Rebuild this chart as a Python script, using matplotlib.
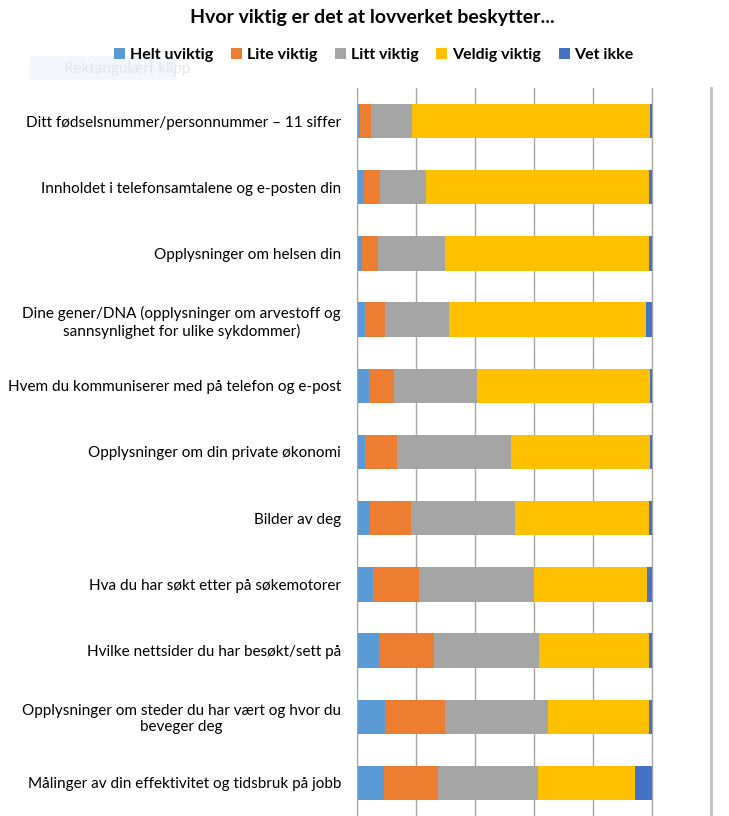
import numpy as np
import matplotlib.pyplot as plt
from matplotlib.patches import Rectangle

# Categories (top to bottom) and shares in percent
categories = [
    'Ditt fødselsnummer/personnummer – 11 siffer',
    'Innholdet i telefonsamtalene og e-posten din',
    'Opplysninger om helsen din',
    'Dine gener/DNA (opplysninger om arvestoff og\nsannsynlighet for ulike sykdommer)',
    'Hvem du kommuniserer med på telefon og e-post',
    'Opplysninger om din private økonomi',
    'Bilder av deg',
    'Hva du har søkt etter på søkemotorer',
    'Hvilke nettsider du har besøkt/sett på',
    'Opplysninger om steder du har vært og hvor du\nbeveger deg',
    'Målinger av din effektivitet og tidsbruk på jobb',
]
series_names = ['Helt uviktig', 'Lite viktig', 'Litt viktig', 'Veldig viktig', 'Vet ikke']
helt_uviktig = [1.0, 2.5, 1.8, 2.8, 4.1, 2.7, 4.4, 5.5, 7.4, 9.5, 9.1]
lite_viktig = [3.8, 5.2, 5.4, 6.7, 8.4, 10.9, 13.9, 15.6, 18.7, 20.4, 18.5]
litt_viktig = [13.8, 15.7, 22.6, 21.6, 28.3, 38.5, 35.1, 38.8, 35.5, 34.8, 33.7]
veldig_viktig = [80.6, 75.5, 69.1, 66.9, 58.4, 47.1, 45.5, 38.5, 37.4, 34.2, 33.1]
vet_ikke = [0.8, 1.1, 1.1, 2.0, 0.8, 0.8, 1.1, 1.6, 1.0, 1.1, 5.6]
colors = ['#5B9BD5', '#ED7D31', '#A5A5A5', '#FFC000', '#4472C4']

plt.rcParams['font.family'] = ['Lato', 'DejaVu Sans']

fig = plt.figure(figsize=(7.29, 8.16), dpi=100)
ax = fig.add_axes([357 / 729, 0.0, 354 / 729, 1 - 88 / 816])

y = np.arange(len(categories))
left = np.zeros(len(categories))
for name, vals, col in zip(series_names,
                           [helt_uviktig, lite_viktig, litt_viktig, veldig_viktig, vet_ikke],
                           colors):
    v = np.array(vals) / 100.0
    ax.barh(y, v, left=left, height=0.52, color=col, label=name, zorder=3)
    left += v

ax.set_xlim(0, 1.2)
ax.set_ylim(len(categories) - 0.5, -0.5)
ax.set_xticks(np.arange(0, 1.01, 0.2))
ax.set_xticklabels([])
ax.tick_params(axis='x', length=0)
ax.tick_params(axis='y', length=0, pad=11.5, labelsize=11)
ax.set_yticks(y)
ax.set_yticklabels(categories)
for lab in ax.get_yticklabels():
    lab.set_multialignment('center')
ax.grid(axis='x', color='#A6A6A6', linewidth=1, zorder=0)
# outer edge of the plot area at 120 %
ax.axvline(1.2, color='#BFBFBF', linewidth=2, clip_on=False, zorder=0)
for s in ['top', 'right', 'bottom']:
    ax.spines[s].set_visible(False)
ax.spines['left'].set_color('#A6A6A6')
ax.spines['left'].set_zorder(4)

fig.text(372 / 729, 1 - 18 / 816, 'Hvor viktig er det at lovverket beskytter...',
         ha='center', va='center', fontsize=14, fontweight='bold')

fig.legend(loc='center', bbox_to_anchor=(374 / 729, 1 - 55 / 816), ncol=5,
           frameon=False, prop={'weight': 'bold', 'size': 11.5},
           handlelength=0.7, handleheight=0.7, handletextpad=0.3, columnspacing=1.1)

# faint screen-clip tooltip that shows in the source image
fig.patches.append(Rectangle((30 / 729, 1 - 80 / 816), 146 / 729, 24 / 816,
                             transform=fig.transFigure, facecolor='#F3F7FD',
                             edgecolor='none', zorder=0))
fig.text(64 / 729, 1 - 69 / 816, 'Rektangulært klipp', ha='left', va='center',
         fontsize=11, color='#E2E6EC')

fig.savefig('out.png', dpi=100)
